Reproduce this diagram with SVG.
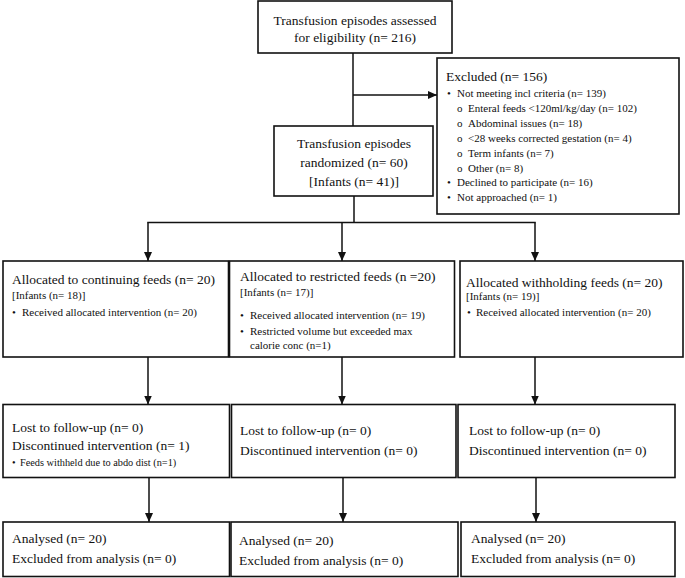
<svg xmlns="http://www.w3.org/2000/svg" width="685" height="578" viewBox="0 0 685 578">
<defs>
<marker id="ah" markerUnits="userSpaceOnUse" markerWidth="9" markerHeight="8" refX="9" refY="4" orient="auto">
<path d="M0,0 L9,4 L0,8 Z" fill="#111"/>
</marker>
<style>
.box{fill:#fff;stroke:#111;stroke-width:1.6}
.ln{fill:none;stroke:#111;stroke-width:1.5}
.ar{fill:none;stroke:#111;stroke-width:1.5;marker-end:url(#ah)}
text{font-family:"Liberation Serif","Times New Roman",serif;fill:#111}
.t{font-size:13.5px}
.s{font-size:11px}
.xs{font-size:10.3px}
.c{text-anchor:middle}
</style>
</defs>
<rect width="685" height="578" fill="#fff"/>

<g id="connectors">
<line class="ln" x1="353" y1="53" x2="353" y2="126"/>
<line class="ar" x1="353" y1="95" x2="437" y2="95"/>
<line class="ln" x1="354" y1="196" x2="354" y2="222.5"/>
<line class="ln" x1="147.25" y1="222.5" x2="535.75" y2="222.5"/>
<line class="ar" x1="148" y1="222.5" x2="148" y2="261"/>
<line class="ar" x1="342" y1="222.5" x2="342" y2="261"/>
<line class="ar" x1="535" y1="222.5" x2="535" y2="261"/>
<line class="ar" x1="148" y1="357" x2="148" y2="404.5"/>
<line class="ar" x1="342" y1="357" x2="342" y2="404.5"/>
<line class="ar" x1="535" y1="357" x2="535" y2="404.5"/>
<line class="ar" x1="149" y1="477.5" x2="149" y2="522"/>
<line class="ar" x1="343" y1="477.5" x2="343" y2="522"/>
<line class="ar" x1="536" y1="477.5" x2="536" y2="522"/>
</g>

<g id="assessed">
<rect class="box" x="258" y="1" width="194" height="52"/>
<text class="t c" x="355" y="24.5">Transfusion episodes assessed</text>
<text class="t c" x="355" y="41.5">for eligibility (n= 216)</text>
</g>

<g id="excluded">
<rect class="box" x="437" y="58" width="242" height="156"/>
<text class="t" x="446" y="81">Excluded (n= 156)</text>
<text class="s" x="447" y="97">•</text><text class="s" x="457" y="97">Not meeting incl criteria (n= 139)</text>
<text class="s" x="457" y="111.9">o</text><text class="s" x="468" y="111.9">Enteral feeds &lt;120ml/kg/day (n= 102)</text>
<text class="s" x="457" y="126.8">o</text><text class="s" x="468" y="126.8">Abdominal issues (n= 18)</text>
<text class="s" x="457" y="141.7">o</text><text class="s" x="468" y="141.7">&lt;28 weeks corrected gestation (n= 4)</text>
<text class="s" x="457" y="156.6">o</text><text class="s" x="468" y="156.6">Term infants (n= 7)</text>
<text class="s" x="457" y="171.5">o</text><text class="s" x="468" y="171.5">Other (n= 8)</text>
<text class="s" x="447" y="186.4">•</text><text class="s" x="457" y="186.4">Declined to participate (n= 16)</text>
<text class="s" x="447" y="201.3">•</text><text class="s" x="457" y="201.3">Not approached (n= 1)</text>
</g>

<g id="randomized">
<rect class="box" x="274" y="126" width="159" height="70"/>
<text class="t c" x="354" y="147.5">Transfusion episodes</text>
<text class="t c" x="354" y="166.5">randomized (n= 60)</text>
<text class="t c" x="354" y="185.5">[Infants (n= 41)]</text>
</g>

<g id="alloc-continuing">
<rect class="box" x="3" y="261" width="225.5" height="96"/>
<text class="t" x="12" y="284">Allocated to continuing feeds (n= 20)</text>
<text class="s" x="12" y="299">[Infants (n= 18)]</text>
<text class="s" x="12" y="316">•</text><text class="s" x="22" y="316">Received allocated intervention (n= 20)</text>
</g>

<g id="alloc-restricted">
<rect class="box" x="229.5" y="261" width="225" height="96"/>
<text class="t" x="240" y="281">Allocated to restricted feeds (n =20)</text>
<text class="s" x="240" y="296">[Infants (n= 17)]</text>
<text class="s" x="240" y="319">•</text><text class="s" x="250" y="319">Received allocated intervention (n= 19)</text>
<text class="s" x="240" y="335">•</text><text class="s" x="250" y="335">Restricted volume but exceeded max</text>
<text class="s" x="250" y="349">calorie conc (n=1)</text>
</g>

<g id="alloc-withholding">
<rect class="box" x="460" y="261" width="223" height="96"/>
<text class="t" x="466" y="287">Allocated withholding feeds (n= 20)</text>
<text class="s" x="466" y="300">[Infants (n= 19)]</text>
<text class="s" x="467" y="316">•</text><text class="s" x="476" y="316">Received allocated intervention (n= 20)</text>
</g>

<g id="followup-continuing">
<rect class="box" x="3" y="404.5" width="226.5" height="73"/>
<text class="t" x="12" y="432">Lost to follow-up (n= 0)</text>
<text class="t" x="12" y="449.5">Discontinued intervention (n= 1)</text>
<text class="xs" x="12" y="466">•</text><text class="xs" x="20" y="466">Feeds withheld due to abdo dist (n=1)</text>
</g>

<g id="followup-restricted">
<rect class="box" x="231.5" y="404.5" width="224.5" height="73"/>
<text class="t" x="240" y="435">Lost to follow-up (n= 0)</text>
<text class="t" x="240" y="454.5">Discontinued intervention (n= 0)</text>
</g>

<g id="followup-withholding">
<rect class="box" x="458" y="404.5" width="217" height="73"/>
<text class="t" x="469" y="435">Lost to follow-up (n= 0)</text>
<text class="t" x="469" y="454.5">Discontinued intervention (n= 0)</text>
</g>

<g id="analysed-continuing">
<rect class="box" x="3" y="522" width="226.5" height="54.5"/>
<text class="t" x="12" y="543">Analysed (n= 20)</text>
<text class="t" x="12" y="563">Excluded from analysis (n= 0)</text>
</g>

<g id="analysed-restricted">
<rect class="box" x="231" y="522" width="227" height="54.5"/>
<text class="t" x="239" y="545">Analysed (n= 20)</text>
<text class="t" x="239" y="565">Excluded from analysis (n= 0)</text>
</g>

<g id="analysed-withholding">
<rect class="box" x="461" y="522" width="214" height="54.5"/>
<text class="t" x="471" y="543">Analysed (n= 20)</text>
<text class="t" x="471" y="563">Excluded from analysis (n= 0)</text>
</g>
</svg>
